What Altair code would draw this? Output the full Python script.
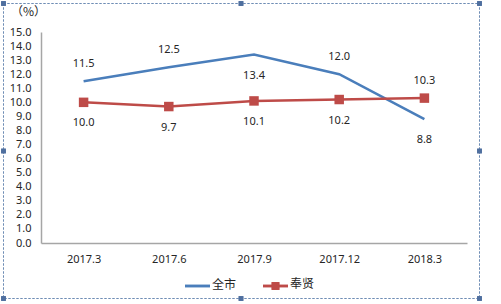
import altair as alt
import pandas as pd

categories = ["2017.3", "2017.6", "2017.9", "2017.12", "2018.3"]
city_values = [11.5, 12.5, 13.4, 12.0, 8.8]
fx_values = [10.0, 9.7, 10.1, 10.2, 10.3]
city_label_side = ["above", "above", "below", "above", "below"]
fx_label_side = ["below", "below", "below", "below", "above"]
series_names = ["全市", "奉贤"]
y_ticks = [float(v) for v in range(0, 16)]

BLUE = "#4A7EBB"
RED = "#BE4B48"
FONT = "Noto Sans"
CJK = "Noto Sans CJK SC"

rows = []
for c, v, s in zip(categories, city_values, city_label_side):
    rows.append({"cat": c, "val": v, "series": series_names[0], "side": s})
for c, v, s in zip(categories, fx_values, fx_label_side):
    rows.append({"cat": c, "val": v, "series": series_names[1], "side": s})
df = pd.DataFrame(rows)

W, H = 426, 211

xenc = alt.X("cat:N", sort=categories,
             scale=alt.Scale(type="point", padding=0.5, domain=categories),
             axis=alt.Axis(title=None, labelAngle=0, ticks=False, domainColor="#A6A6A6",
                           domainWidth=1.5, labelFont=FONT, labelFontSize=11,
                           labelColor="#262626", labelPadding=10, grid=False))
yenc = alt.Y("val:Q", scale=alt.Scale(domain=[0, 15], nice=False, zero=True),
             axis=alt.Axis(title=None, values=y_ticks, tickCount=16, format=".1f", ticks=False,
                           domainColor="#A6A6A6", domainWidth=1.5, labelFont=FONT,
                           labelFontSize=11, labelColor="#262626", labelPadding=10,
                           labelOverlap=False, labelBound=False, grid=False))

base = alt.Chart(df)
color = alt.Color("series:N", scale=alt.Scale(domain=series_names, range=[BLUE, RED]), legend=None)

lines = base.mark_line(strokeWidth=2.5).encode(x=xenc, y=yenc, color=color)
squares = base.transform_filter(alt.datum.series == series_names[1]).mark_square(
    size=90, opacity=1, color=RED).encode(x=xenc, y=yenc)

lab_above = base.transform_filter(alt.datum.side == "above").mark_text(
    dy=-17, font=FONT, fontSize=11, color="#262626").encode(
    x=xenc, y=yenc, text=alt.Text("val:Q", format=".1f"))
lab_below = base.transform_filter(alt.datum.side == "below").mark_text(
    dy=21, font=FONT, fontSize=11, color="#262626").encode(
    x=xenc, y=yenc, text=alt.Text("val:Q", format=".1f"))

# title "(%)"
unit = alt.Chart(pd.DataFrame({"t": ["（%）"]})).mark_text(
    font=CJK, fontSize=12, color="#262626", align="left").encode(
    x=alt.value(-30), y=alt.value(-20), text="t:N")

# manual legend
leg_df = pd.DataFrame({"t": series_names})
leg_blue = alt.Chart(leg_df).mark_rule(color=BLUE, strokeWidth=2.5).encode(
    x=alt.value(144), x2=alt.value(169), y=alt.value(254))
leg_red = alt.Chart(leg_df).mark_rule(color=RED, strokeWidth=2.5).encode(
    x=alt.value(222), x2=alt.value(247), y=alt.value(254))
leg_sq = alt.Chart(leg_df).mark_square(color=RED, size=60, opacity=1).encode(
    x=alt.value(234.5), y=alt.value(254))
leg_t1 = alt.Chart(pd.DataFrame({"t": [series_names[0]]})).mark_text(
    font=CJK, fontSize=12, color="#262626", align="left").encode(
    x=alt.value(171), y=alt.value(253), text="t:N")
leg_t2 = alt.Chart(pd.DataFrame({"t": [series_names[1]]})).mark_text(
    font=CJK, fontSize=12, color="#262626", align="left").encode(
    x=alt.value(249), y=alt.value(252), text="t:N")

# selection frame (dashed) and handles
frame = alt.Chart(leg_df).mark_rect(fill=None, stroke="#6E8DB5", strokeDash=[2, 2],
                                    strokeWidth=1).encode(
    x=alt.value(-37.5), x2=alt.value(438.5), y=alt.value(-28.5), y2=alt.value(266.5))
handle_pos = [(-37.5, -28.5), (200, -28.5), (438.5, -28.5), (-37.5, 119),
              (438.5, 119), (-37.5, 266.5), (200, 266.5), (438.5, 266.5)]
handles = [alt.Chart(leg_df).mark_square(color="#4F6F9F", size=22, opacity=1).encode(
    x=alt.value(hx), y=alt.value(hy)) for hx, hy in handle_pos]

chart = alt.layer(frame, lines, squares, lab_above, lab_below, unit,
                  leg_blue, leg_red, leg_sq, leg_t1, leg_t2, *handles).properties(
    width=W, height=H,
    autosize=alt.AutoSizeParams(type="none"),
    padding={"left": 41, "top": 32, "right": 34, "bottom": 61},
    background="white",
).configure_view(stroke=None)

chart.save("out.html", embed_options={"renderer": "svg", "actions": False})
